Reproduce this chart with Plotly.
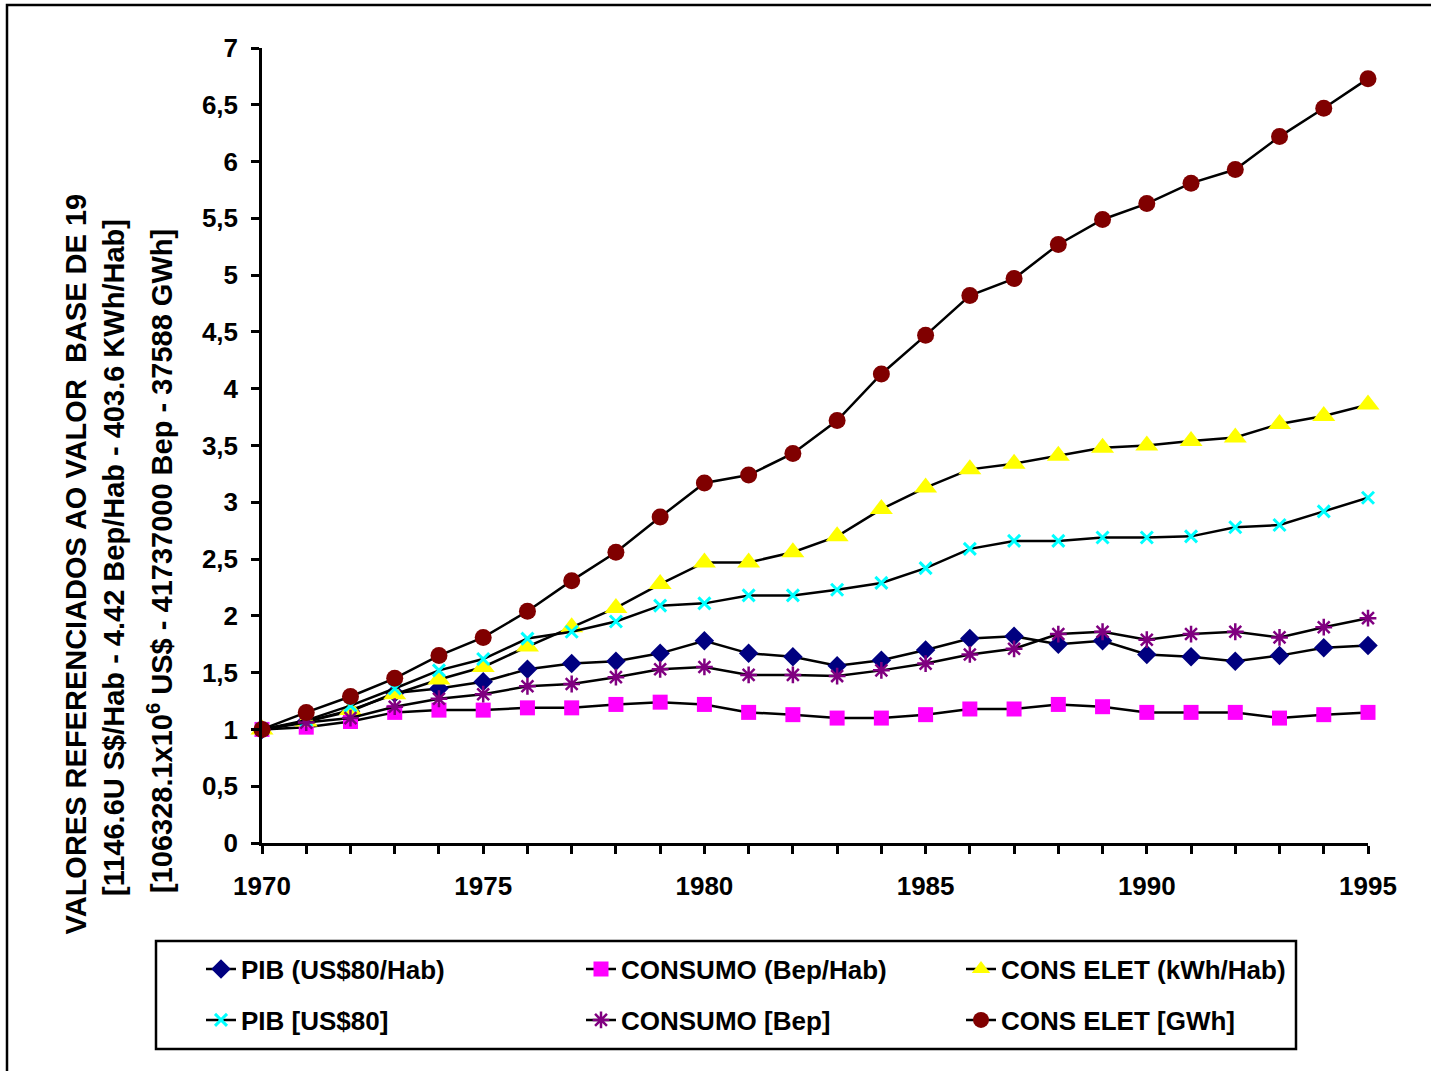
import plotly.graph_objects as go

years = list(range(1970, 1996))

pib_hab = [1.00, 1.07, 1.16, 1.32, 1.36, 1.42, 1.53, 1.58, 1.60, 1.67, 1.78, 1.67, 1.64,
           1.56, 1.61, 1.70, 1.80, 1.82, 1.75, 1.78, 1.66, 1.64, 1.60, 1.65, 1.72, 1.74]
consumo_hab = [1.00, 1.02, 1.07, 1.15, 1.17, 1.17, 1.19, 1.19, 1.22, 1.24, 1.22, 1.15, 1.13,
               1.10, 1.10, 1.13, 1.18, 1.18, 1.22, 1.20, 1.15, 1.15, 1.15, 1.10, 1.13, 1.15]
cons_elet_hab = [1.00, 1.07, 1.17, 1.31, 1.44, 1.55, 1.73, 1.90, 2.07, 2.28, 2.47, 2.47, 2.56,
                 2.70, 2.94, 3.13, 3.29, 3.34, 3.41, 3.48, 3.50, 3.54, 3.57, 3.69, 3.76, 3.86]
pib = [1.00, 1.08, 1.21, 1.36, 1.52, 1.62, 1.80, 1.86, 1.95, 2.09, 2.11, 2.18, 2.18,
       2.23, 2.29, 2.42, 2.59, 2.66, 2.66, 2.69, 2.69, 2.70, 2.78, 2.80, 2.92, 3.04]
consumo = [1.00, 1.06, 1.10, 1.20, 1.27, 1.31, 1.38, 1.40, 1.46, 1.53, 1.55, 1.48, 1.48,
           1.47, 1.52, 1.58, 1.66, 1.71, 1.84, 1.86, 1.79, 1.84, 1.86, 1.81, 1.90, 1.98]
cons_elet = [1.00, 1.15, 1.29, 1.45, 1.65, 1.81, 2.04, 2.31, 2.56, 2.87, 3.17, 3.24, 3.43,
             3.72, 4.13, 4.47, 4.82, 4.97, 5.27, 5.49, 5.63, 5.81, 5.93, 6.22, 6.47, 6.73]

series_names = ["PIB (US$80/Hab)", "CONSUMO (Bep/Hab)", "CONS ELET (kWh/Hab)",
                "PIB [US$80]", "CONSUMO [Bep]", "CONS ELET [GWh]"]

x_tickvals = [1970, 1975, 1980, 1985, 1990, 1995]
x_ticktext = ["1970", "1975", "1980", "1985", "1990", "1995"]
y_tickvals = [0, 0.5, 1, 1.5, 2, 2.5, 3, 3.5, 4, 4.5, 5, 5.5, 6, 6.5, 7]
y_ticktext = ["0", "0,5", "1", "1,5", "2", "2,5", "3", "3,5", "4", "4,5", "5", "5,5", "6", "6,5", "7"]

W, H = 1431, 1071
L, R, T, B = 262, 1368, 48, 843


def px(x):
    return (x - L) / (R - L)


def py(y):
    return (B - y) / (B - T)


FONT = "Arial"
styles = [
    dict(symbol="diamond", color="#000080", size=15, line=dict(width=0)),
    dict(symbol="square", color="#FF00FF", size=15, line=dict(width=0)),
    dict(symbol="triangle-up", color="#FFFF00", size=20, line=dict(width=0)),
    dict(symbol="x-thin", color="#00FFFF", size=12, line=dict(width=3, color="#00FFFF")),
    dict(symbol="asterisk", color="#800080", size=14, line=dict(width=2.5, color="#800080")),
    dict(symbol="circle", color="#800000", size=17, line=dict(width=0)),
]
data = [pib_hab, consumo_hab, cons_elet_hab, pib, consumo, cons_elet]
legends = ["legend", "legend", "legend", "legend2", "legend2", "legend2"]

fig = go.Figure()
for name, vals, st, lg in zip(series_names, data, styles, legends):
    fig.add_trace(go.Scatter(
        x=years, y=vals, name=name, mode="lines+markers",
        line=dict(color="black", width=2.5),
        marker=st, cliponaxis=False, legend=lg,
    ))

legend_common = dict(
    orientation="h", entrywidth=335, entrywidthmode="pixels",
    font=dict(family=FONT, size=26, color="black", weight="bold"),
    bgcolor="rgba(0,0,0,0)", borderwidth=0,
    xanchor="left", yanchor="middle", itemsizing="trace",
)

tick_font = dict(family=FONT, size=26, color="black", weight="bold")

fig.update_layout(
    width=W, height=H,
    margin=dict(l=L, r=W - R, t=T, b=H - B, pad=0),
    paper_bgcolor="white", plot_bgcolor="white",
    showlegend=True,
    legend=dict(x=px(201), y=py(969), **legend_common),
    legend2=dict(x=px(201), y=py(1020), **legend_common),
    xaxis=dict(
        range=[1970, 1995], tickvals=x_tickvals, ticktext=x_ticktext,
        showgrid=False, zeroline=False, showline=True, linecolor="black", linewidth=2.5,
        ticks="outside", ticklen=8, tickwidth=2.5, tickcolor="black",
        tickfont=tick_font, ticklabelstandoff=10,
        minor=dict(tick0=1970, dtick=1, ticks="outside", ticklen=8, tickwidth=2.5,
                   tickcolor="black", showgrid=False),
    ),
    yaxis=dict(
        range=[0, 7], tickvals=y_tickvals, ticktext=y_ticktext,
        showgrid=False, zeroline=False, showline=True, linecolor="black", linewidth=2.5,
        ticks="outside", ticklen=8, tickwidth=2.5, tickcolor="black",
        tickfont=tick_font, ticklabelstandoff=8,
    ),
    shapes=[
        dict(type="rect", xref="paper", yref="paper",
             x0=px(7), x1=px(1445), y0=py(1085), y1=py(5),
             line=dict(color="black", width=2.5), fillcolor="rgba(0,0,0,0)", layer="below"),
        dict(type="rect", xref="paper", yref="paper",
             x0=px(156), x1=px(1296), y0=py(1049), y1=py(941),
             line=dict(color="black", width=2.5), fillcolor="rgba(0,0,0,0)"),
    ],
)

title_font = dict(family=FONT, size=29, color="black", weight="bold")
fig.add_annotation(
    text="VALORES REFERENCIADOS AO VALOR\u00a0\u00a0BASE DE 19",
    xref="paper", yref="paper", x=px(75), y=py(937),
    xanchor="center", yanchor="bottom", textangle=-90, showarrow=False, font=title_font,
)
fig.add_annotation(
    text="[1146.6U S$/Hab - 4.42 Bep/Hab - 403.6 KWh/Hab]",
    xref="paper", yref="paper", x=px(114), y=py(558),
    xanchor="center", yanchor="middle", textangle=-90, showarrow=False, font=title_font,
)
fig.add_annotation(
    text="[106328.1x10<sup>6</sup> US$ - 41737000 Bep - 37588 GWh]",
    xref="paper", yref="paper", x=px(160), y=py(561),
    xanchor="center", yanchor="middle", textangle=-90, showarrow=False, font=title_font,
)

fig.write_html("out.html")
